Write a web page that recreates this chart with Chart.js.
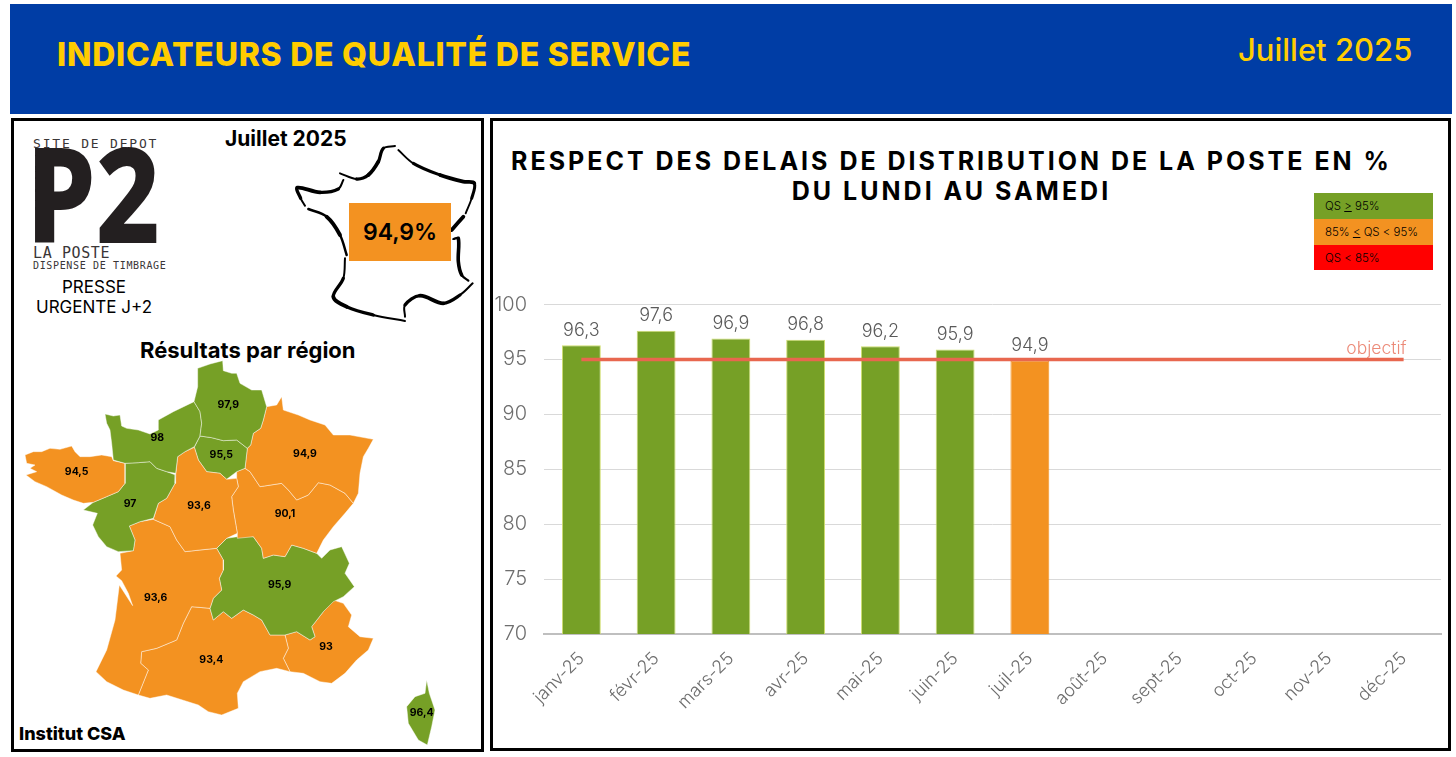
<!DOCTYPE html>
<html lang="fr">
<head>
<meta charset="utf-8">
<title>Indicateurs de qualité de service</title>
<script src="https://cdn.jsdelivr.net/npm/chart.js@4/dist/chart.umd.min.js"></script>
<style>
    html, body { margin: 0; padding: 0; background: #fff; }
    body { position: relative; width: 1456px; height: 757px; overflow: hidden; font-family: Inter, "Open Sans", sans-serif; color: #000; }
    .abs { position: absolute; white-space: nowrap; }
    .banner { left: 10px; top: 4px; width: 1442px; height: 110px; background: #003da5; }
    .panel { border: 3px solid #000; box-sizing: border-box; }
    canvas { position: absolute; }
    .mono { font-family: "DejaVu Sans Mono", monospace; color: #3a3637; }
    .legend-row { left: 1314px; width: 119px; box-sizing: border-box; padding-left: 11px; font-size: 11.5px; font-weight: 300; display: flex; align-items: center; }
</style>
</head>
<body>
<div class="abs banner"></div>
<div class="abs" style="left:57px;top:35px;font-size:32px;font-weight:800;color:#ffcc00;letter-spacing:0.75px">INDICATEURS DE QUALITÉ DE SERVICE</div>
<div class="abs" style="left:1238px;top:31px;font-size:31px;font-weight:500;color:#ffcc00">Juillet 2025</div>

<div class="abs panel" style="left:11px;top:118px;width:473px;height:634px"></div>
<div class="abs panel" style="left:490px;top:118px;width:961px;height:633px"></div>

<div class="abs mono" style="left:33px;top:136px;font-size:13px;letter-spacing:1.8px">SITE DE DEPOT</div>
<div class="abs" style="left:26px;top:112px;font-family:'Noto Sans';font-weight:800;font-size:132px;line-height:160px;color:#231f20;transform:scaleX(0.845);transform-origin:left top">P2</div>
<div class="abs mono" style="left:33px;top:244px;font-size:15px;letter-spacing:0.6px">LA POSTE</div>
<div class="abs mono" style="left:33px;top:260px;font-size:10px;letter-spacing:0.65px">DISPENSE DE TIMBRAGE</div>
<div class="abs" style="left:14px;top:277px;width:160px;text-align:center;font-size:17px;line-height:20px;font-weight:400;white-space:normal">PRESSE<br>URGENTE J+2</div>
<div class="abs" style="left:225px;top:126px;font-size:21px;font-weight:700">Juillet 2025</div>
<div class="abs" style="left:140px;top:337px;font-size:22px;font-weight:700">Résultats par région</div>
<div class="abs" style="left:19px;top:723px;font-size:18px;font-weight:800">Institut CSA</div>

<canvas id="outlineChart" style="left:10px;top:115px" width="475" height="225"></canvas>
<canvas id="mapChart" style="left:10px;top:340px" width="475" height="415"></canvas>
<div class="abs" style="left:349px;top:203px;width:102px;height:58px;background:#f39221;display:flex;align-items:center;justify-content:center;font-size:23px;font-weight:600">94,9%</div>

<div class="abs" style="left:494px;top:146px;width:915px;text-align:center;font-size:25px;line-height:30px;font-weight:700;letter-spacing:3px;white-space:normal">RESPECT DES DELAIS DE DISTRIBUTION DE LA POSTE EN %<br>DU LUNDI AU SAMEDI</div>

<div class="abs legend-row" style="top:193px;height:26px;background:#76a026">QS&nbsp;<u>&gt;</u>&nbsp;95%</div>
<div class="abs legend-row" style="top:219px;height:26px;background:#f39221">85%&nbsp;<u>&lt;</u>&nbsp;QS &lt; 95%</div>
<div class="abs legend-row" style="top:245px;height:25px;background:#ff0000">QS &lt; 85%</div>

<canvas id="barChart" style="left:493px;top:280px" width="956" height="470"></canvas>

<script>
// Monthly results
const months = ['janv-25', 'févr-25', 'mars-25', 'avr-25', 'mai-25', 'juin-25', 'juil-25', 'août-25', 'sept-25', 'oct-25', 'nov-25', 'déc-25'];
const monthValues = [96.3, 97.6, 96.9, 96.8, 96.2, 95.9, 94.9, null, null, null, null, null];
const objective = [95, 95, 95, 95, 95, 95, 95, 95, 95, 95, 95, 95];
const yTicks = [70, 75, 80, 85, 90, 95, 100];

// Regional results
const regionNames = ['Hauts-de-France', 'Normandie', 'Bretagne', 'Pays de la Loire', 'Centre-Val de Loire', 'Île-de-France', 'Grand Est', 'Bourgogne-Franche-Comté', 'Nouvelle-Aquitaine', 'Auvergne-Rhône-Alpes', 'Occitanie', 'PACA', 'Corse'];
const regionValues = [97.9, 98, 94.5, 97, 93.6, 95.5, 94.9, 90.1, 93.6, 95.9, 93.4, 93, 96.4];

// Region outlines and label anchors (x, y pairs, 3x crop coordinates)
const regionLabelAt = [[655, 195], [442, 293], [200, 397], [360, 491], [567, 497], [634, 346], [885, 342], [825, 522], [437, 774], [809, 735], [604, 960], [948, 920], [1235, 1120]];
const regionShapes = [
    [563,85, 600,72, 638,62, 640,92, 665,100, 680,100, 690,130, 725,150, 755,150, 770,200, 760,240, 752,265, 730,280, 722,315, 712,325, 680,300, 640,302, 605,293, 570,288, 575,250, 570,215, 552,185, 563,140],
    [285,222, 310,228, 330,225, 335,258, 350,265, 385,270, 420,282, 445,270, 445,240, 490,215, 552,185, 570,215, 575,250, 570,288, 553,320, 525,335, 503,350, 497,400, 470,395, 440,385, 420,365, 385,368, 345,370, 310,360, 305,310, 300,270, 290,250],
    [45,345, 70,335, 95,335, 120,325, 150,328, 185,318, 195,335, 210,350, 240,350, 275,345, 305,350, 310,362, 345,370, 345,430, 325,455, 290,470, 250,487, 220,490, 190,480, 155,465, 110,440, 75,425, 48,405, 80,395, 60,385, 75,375, 50,370],
    [345,370, 385,368, 420,365, 440,385, 470,395, 497,405, 495,430, 470,475, 445,490, 430,535, 390,545, 358,558, 375,600, 370,632, 325,635, 290,620, 265,590, 248,555, 262,520, 220,510, 250,487, 290,470, 325,455, 345,430],
    [553,322, 565,360, 590,395, 630,400, 650,418, 680,415, 685,440, 665,470, 670,510, 682,580, 650,595, 620,625, 570,630, 525,635, 500,600, 480,560, 430,538, 445,490, 470,475, 495,430, 497,405, 503,350, 525,335],
    [570,288, 605,293, 640,302, 680,300, 712,325, 705,385, 680,395, 650,418, 630,400, 590,395, 565,360, 553,322],
    [815,170, 820,210, 865,225, 900,240, 945,255, 970,285, 1020,285, 1090,298, 1075,325, 1060,350, 1050,400, 1045,460, 1030,490, 1005,460, 960,435, 925,428, 895,465, 860,480, 835,450, 815,430, 750,440, 720,395, 705,385, 712,325, 722,315, 730,280, 752,265, 760,240, 770,200, 800,195],
    [680,395, 705,385, 720,395, 750,440, 815,430, 835,450, 860,480, 895,465, 925,428, 960,435, 1005,460, 1030,490, 1005,520, 970,560, 940,600, 920,640, 880,625, 845,615, 825,650, 790,645, 760,655, 755,625, 730,590, 682,595, 682,580, 670,510, 665,470, 685,440, 680,415],
    [430,538, 480,560, 500,600, 525,635, 570,630, 620,625, 640,660, 640,690, 628,715, 635,750, 610,775, 600,805, 545,800, 520,850, 500,900, 440,925, 395,935, 392,970, 415,990, 385,1065, 340,1050, 290,1025, 258,995, 290,930, 315,840, 328,735, 368,797, 355,760, 335,722, 318,708, 335,690, 330,640, 370,632, 375,600, 358,558, 390,545],
    [620,625, 650,595, 682,590, 730,590, 755,625, 760,655, 790,645, 825,650, 845,615, 880,625, 920,640, 935,655, 960,630, 995,620, 1018,670, 1005,700, 1033,740, 1000,770, 970,785, 940,815, 905,860, 915,890, 900,900, 860,875, 825,885, 780,885, 755,840, 730,825, 700,810, 665,835, 640,815, 610,840, 600,805, 610,775, 635,750, 628,715, 640,690, 640,660],
    [545,800, 600,805, 610,840, 640,815, 665,835, 700,810, 730,825, 755,840, 780,885, 825,885, 835,925, 820,955, 840,995, 800,985, 750,995, 700,1025, 682,1060, 685,1105, 635,1125, 595,1115, 565,1095, 470,1065, 420,1075, 385,1065, 415,990, 392,970, 395,935, 440,925, 500,900, 520,850],
    [970,780, 1000,790, 1025,825, 1015,860, 1050,890, 1090,895, 1075,930, 1040,960, 1005,1000, 965,1030, 930,1025, 880,1000, 840,995, 820,955, 835,925, 825,885, 860,875, 900,900, 915,890, 905,860, 940,815],
    [1250,1020, 1258,1060, 1275,1110, 1265,1160, 1252,1215, 1225,1200, 1195,1150, 1190,1100, 1215,1070, 1245,1060]
];

// Brush strokes of the small France outline (x, y pairs, 3x crop coordinates)
const outlineStrokes = [
    [1155,93, 1120,100, 1105,140, 1075,180, 1040,192, 990,175],
    [1165,105, 1210,145, 1290,180, 1360,200, 1393,205, 1385,250, 1367,295],
    [1000,195, 985,222, 930,232, 862,218, 872,250, 885,272],
    [895,282, 950,305, 990,360, 1010,420],
    [1005,430, 1000,490, 970,545, 1010,575, 1090,600, 1185,618],
    [1185,605, 1185,570, 1230,542, 1300,565, 1350,540, 1388,505],
    [1330,372, 1345,370, 1345,440, 1355,480, 1375,497],
    [1360,305, 1325,345]
];

const GREEN = '#76a026';
const ORANGE = '#f39221';
const RED = '#ff0000';
const BAR_BORDERS = { [GREEN]: '#cfdd6f', [ORANGE]: ORANGE, [RED]: RED };

document.addEventListener('DOMContentLoaded', () => {
    renderOutline();
    renderMap();
    renderBars();
});

function qsColor(value) {
    if (value >= 95) return GREEN;
    if (value >= 85) return ORANGE;
    return RED;
}

function formatFr(value) {
    return String(value).replace('.', ',');
}

function toPoints(flat) {
    const points = [];
    for (let i = 0; i < flat.length; i += 2) {
        points.push({ x: flat[i], y: flat[i + 1] });
    }
    return points;
}

// Bare scales that map the crop coordinates onto the canvas
function cropScales(canvas) {
    return {
        x: { type: 'linear', display: false, min: 0, max: canvas.width * 3 },
        y: { type: 'linear', display: false, min: 0, max: canvas.height * 3, reverse: true }
    };
}

function renderOutline() {
    const canvas = document.getElementById('outlineChart');
    new Chart(canvas, {
        type: 'scatter',
        data: {
            datasets: outlineStrokes.map(stroke => {
                const segments = stroke.length / 2 - 1;
                return {
                    data: toPoints(stroke),
                    showLine: true,
                    tension: 0.35,
                    borderColor: '#000',
                    borderCapStyle: 'round',
                    pointRadius: 0,
                    // brush look: thin at both ends, thick in the middle
                    segment: {
                        borderWidth: ctx => 1.2 + 2.6 * Math.sin(Math.PI * (ctx.p0DataIndex + 0.5) / segments)
                    }
                };
            })
        },
        options: {
            responsive: false,
            animation: false,
            layout: { padding: 0 },
            scales: cropScales(canvas),
            plugins: { legend: { display: false }, tooltip: { enabled: false } }
        }
    });
}

const regionLabelsPlugin = {
    id: 'regionLabels',
    afterDatasetsDraw(chart) {
        const ctx = chart.ctx;
        ctx.save();
        ctx.font = '700 10.5px Inter';
        ctx.fillStyle = '#000';
        ctx.textAlign = 'center';
        ctx.textBaseline = 'middle';
        regionValues.forEach((value, i) => {
            const x = chart.scales.x.getPixelForValue(regionLabelAt[i][0]);
            const y = chart.scales.y.getPixelForValue(regionLabelAt[i][1]);
            ctx.fillText(formatFr(value), x, y);
        });
        ctx.restore();
    }
};

function renderMap() {
    const canvas = document.getElementById('mapChart');
    new Chart(canvas, {
        type: 'scatter',
        data: {
            datasets: regionShapes.map((shape, i) => {
                const points = toPoints(shape);
                points.push(points[0]);
                return {
                    label: regionNames[i],
                    data: points,
                    showLine: true,
                    fill: 'shape',
                    backgroundColor: qsColor(regionValues[i]),
                    borderColor: 'rgba(255,255,255,0.75)',
                    borderWidth: 0.6,
                    pointRadius: 0
                };
            })
        },
        options: {
            responsive: false,
            animation: false,
            layout: { padding: 0 },
            scales: cropScales(canvas),
            plugins: { legend: { display: false }, tooltip: { enabled: false } }
        },
        plugins: [regionLabelsPlugin]
    });
}

const barLabelsPlugin = {
    id: 'barLabels',
    afterDatasetsDraw(chart) {
        const ctx = chart.ctx;
        ctx.save();
        ctx.font = '300 18px Inter';
        ctx.fillStyle = '#595959';
        ctx.textAlign = 'center';
        ctx.textBaseline = 'bottom';
        chart.getDatasetMeta(1).data.forEach((bar, i) => {
            if (monthValues[i] === null) return;
            ctx.fillText(formatFr(monthValues[i]), bar.x, bar.y - 6);
        });

        // "objectif" sits above the end of the line
        const line = chart.getDatasetMeta(0).data;
        const last = line[line.length - 1];
        ctx.font = '300 17.5px Inter';
        ctx.fillStyle = '#ec8a78';
        ctx.textAlign = 'right';
        ctx.fillText('objectif', last.x + 3, last.y - 2);
        ctx.restore();
    }
};

function renderBars() {
    const barColors = monthValues.map(v => v === null ? GREEN : qsColor(v));

    new Chart(document.getElementById('barChart'), {
        type: 'bar',
        data: {
            labels: months,
            datasets: [
                {
                    type: 'line',
                    label: 'objectif',
                    data: objective,
                    borderColor: '#e8674f',
                    borderWidth: 3.5,
                    pointRadius: 0,
                    tension: 0
                },
                {
                    type: 'bar',
                    label: 'QS',
                    data: monthValues,
                    backgroundColor: barColors,
                    borderColor: barColors.map(c => BAR_BORDERS[c]),
                    borderWidth: 1,
                    categoryPercentage: 0.52,
                    barPercentage: 1
                }
            ]
        },
        options: {
            responsive: false,
            animation: false,
            layout: { padding: { top: 24.5, right: 8, left: 0, bottom: 0 } },
            scales: {
                x: {
                    grid: { display: false },
                    border: { color: '#bfbfbf', width: 2 },
                    ticks: {
                        color: '#6e6e6e',
                        font: { family: 'Inter', size: 18, weight: 300 },
                        minRotation: 45,
                        maxRotation: 45,
                        autoSkip: false,
                        padding: 6
                    },
                    afterFit: scale => {
                        scale.height = 116;
                        scale.paddingTop = 0;
                    }
                },
                y: {
                    min: 70,
                    max: 100,
                    afterBuildTicks: scale => { scale.ticks = yTicks.map(value => ({ value })); },
                    grid: { color: '#d9d9d9', drawTicks: false },
                    border: { display: false },
                    ticks: {
                        color: '#6e6e6e',
                        font: { family: 'Inter', size: 20, weight: 300 },
                        padding: 17
                    },
                    afterFit: scale => {
                        scale.width = 51;
                        scale.paddingTop = 0;
                    }
                }
            },
            plugins: { legend: { display: false }, tooltip: { enabled: false } }
        },
        plugins: [barLabelsPlugin]
    });
}
</script>
</body>
</html>
